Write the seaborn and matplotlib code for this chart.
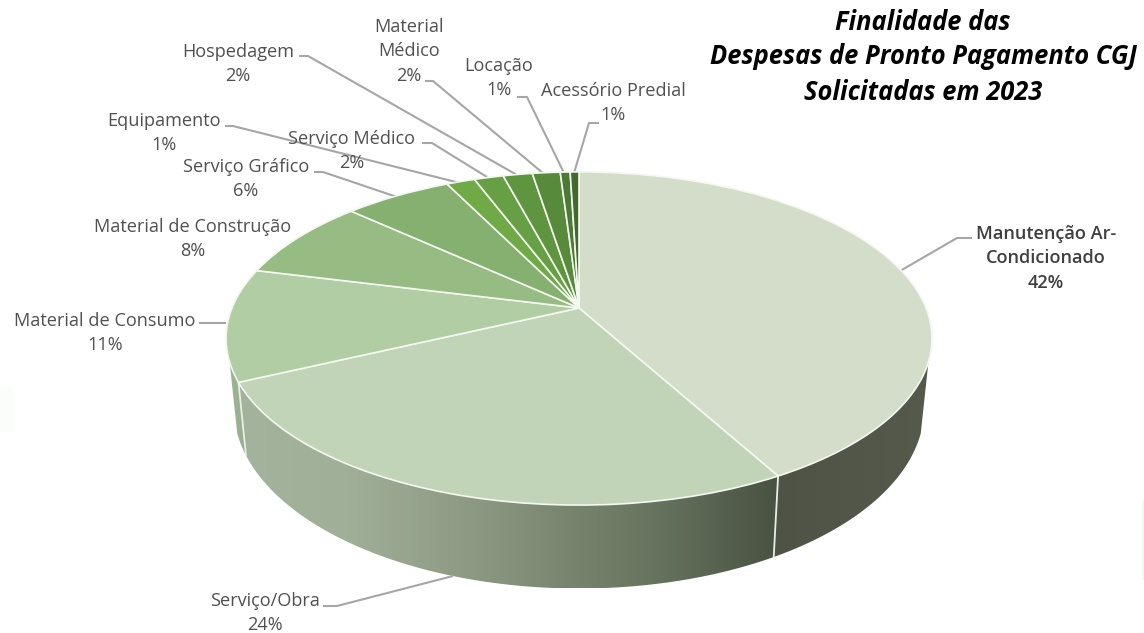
import numpy as np
import matplotlib
matplotlib.use("Agg")
import matplotlib.pyplot as plt
import matplotlib.transforms as mtransforms
from matplotlib.patches import Polygon, Rectangle
import seaborn as sns

# ---- data ----
categories = ["Manutenção Ar-\nCondicionado", "Serviço/Obra", "Material de Consumo",
              "Material de Construção", "Serviço Gráfico", "Equipamento", "Serviço Médico",
              "Hospedagem", "Material\nMédico", "Locação", "Acessório Predial"]
percent_labels = ["42%", "24%", "11%", "8%", "6%", "1%", "2%", "2%", "2%", "1%", "1%"]
# slice shares as drawn (measured from the slice boundaries)
slice_shares = [42.0, 26.0, 10.9, 7.9, 5.9, 1.56, 1.6, 1.6, 1.52, 0.54, 0.48]
title_lines = ["Finalidade das", "Despesas de Pronto Pagamento CGJ", "Solicitadas em 2023"]

slice_colors = ["#D3DDCA", "#C2D4B8", "#B0CDA3", "#97BC83", "#85B06F", "#6FAA47",
                "#67A044", "#5F953F", "#578A3B", "#4C7A34", "#436A2E"]
wall_stops = {0: ["#4F5346", "#565A4D"],
              1: ["#A4B49C", "#A0AF98", "#8F9D87", "#7A8770", "#63705B", "#4A5142"],
              2: ["#9DB594", "#97AE8E"]}

# ---- layout (reference pixels) ----
W, H = 1144, 633
CX, APEX_Y, A, B, K = 579.0, 308.0, 347.0, 161.0, -0.183
SHRINK, DEPTH_SLOPE, DEPTH_OFFSET = 0.978, 1.084, 41.0
WALL_RIGHT, WALL_LEFT = 108.4, 251.6   # degrees clockwise from 12 o'clock


class PerspectiveDisc(mtransforms.Transform):
    """Maps the unit pie disc to the tilted disc of the picture."""
    input_dims = output_dims = 2

    def transform_non_affine(self, xy):
        xy = np.asarray(xy, float)
        u, v = xy[:, 0], -xy[:, 1]
        d = 1 + K * v
        return np.column_stack([CX + A * u / d, APEX_Y + B * v / d])


def rim(theta_deg):
    t = np.radians(theta_deg)
    return PerspectiveDisc().transform_non_affine(np.column_stack([np.sin(t), np.cos(t)]))


def lower(xy):
    return np.column_stack([CX + SHRINK * (xy[:, 0] - CX),
                            DEPTH_SLOPE * xy[:, 1] + DEPTH_OFFSET])


sns.set_theme(style="white")
plt.rcParams["font.family"] = ["Open Sans", "DejaVu Sans"]

fig = plt.figure(figsize=(W / 100, H / 100), dpi=100, facecolor="white")
ax = fig.add_axes([0, 0, 1, 1])

wedges, _ = ax.pie(slice_shares, colors=sns.color_palette(slice_colors), startangle=90,
                   counterclock=False, radius=1,
                   wedgeprops=dict(edgecolor="#F4F8F0", linewidth=1.2))
ax.set_aspect("auto")
ax.set_xlim(0, W)
ax.set_ylim(H, 0)
ax.axis("off")

disc = PerspectiveDisc() + ax.transData
for w in wedges:
    w.set_transform(disc)
    w.set_clip_on(False)
    w.set_zorder(5)

# start angle of each slice, clockwise from 12 o'clock
edges = np.concatenate([[0], np.cumsum(slice_shares)]) / np.sum(slice_shares) * 360

# side wall of the three slices that face the viewer
for i, stops in wall_stops.items():
    a0, a1 = max(edges[i], WALL_RIGHT), min(edges[i + 1], WALL_LEFT)
    top = rim(np.linspace(a0, a1, 160))
    outline = np.vstack([top, lower(top)[::-1]])
    poly = Polygon(outline, closed=True, facecolor="none", edgecolor="none",
                   transform=ax.transData)
    ax.add_patch(poly)
    cmap = sns.blend_palette(stops[::-1] if i != 0 else stops, as_cmap=True)
    x0, x1 = outline[:, 0].min(), outline[:, 0].max()
    y0, y1 = outline[:, 1].min(), outline[:, 1].max()
    img = ax.imshow(np.linspace(0, 1, 256)[None, :] if i == 0 else np.linspace(1, 0, 256)[None, :],
                    extent=(x0, x1, y1, y0), cmap=cmap, aspect="auto", zorder=2)
    img.set_clip_path(poly)
ax.set_xlim(0, W)
ax.set_ylim(H, 0)

# light seams on the wall
for e in edges[[1, 2]]:
    p = rim(np.array([e]))
    q = lower(p)
    ax.plot([p[0, 0], q[0, 0]], [p[0, 1], q[0, 1]], color="#E9EEE4", lw=1.3, zorder=3)

# labels: centre x, y of the first line, leader polyline
label_pos = [(1046, 233), (265, 600), (105, 320), (193, 226), (246, 166), (164, 120),
             (352, 138), (238, 51), (409, 26), (499, 65), (613, 90)]
leaders = [[(972, 238), (957, 238), (900, 271)],
           [(323, 606), (337, 606), (453, 576)],
           [(199, 323), (226, 323)],
           None,
           [(314, 172), (323, 172), (397, 197)],
           [(225, 126), (233, 126), (460, 183)],
           [(422, 143), (432, 143), (487, 177)],
           [(299, 56), (308, 56), (517, 175)],
           [(425, 81), (433, 81), (544, 174)],
           [(517, 97), (527, 97), (564, 173)],
           [(599, 123), (589, 123), (574, 173)]]

for i, (name, pct, (x, y), lead) in enumerate(zip(categories, percent_labels, label_pos, leaders)):
    bold = i == 0
    ax.text(x, y - 8, f"{name}\n{pct}", ha="center", va="top", multialignment="center",
            fontsize=13.1, linespacing=1.46, color="#3F3F3F" if bold else "#505050",
            fontweight="semibold" if bold else "normal", zorder=6)
    if lead:
        xs, ys = zip(*lead)
        ax.plot(xs, ys, color="#A6A6A6", lw=1.5, zorder=4, solid_capstyle="butt")

for line, y in zip(title_lines, (22, 57, 92)):
    ax.text(923, y, line, ha="center", va="center", fontsize=18.4, fontweight="bold",
            fontstyle="italic", color="black", zorder=6)

# faint tint at the picture edges
ax.add_patch(Rectangle((0, 388), 14, 44, facecolor="#FAFDFA", edgecolor="none", zorder=0))
ax.add_patch(Rectangle((1142, 500), 2, 80, facecolor="#F3F8F3", edgecolor="none", zorder=0))

fig.savefig("out.png", dpi=100, facecolor="white")
